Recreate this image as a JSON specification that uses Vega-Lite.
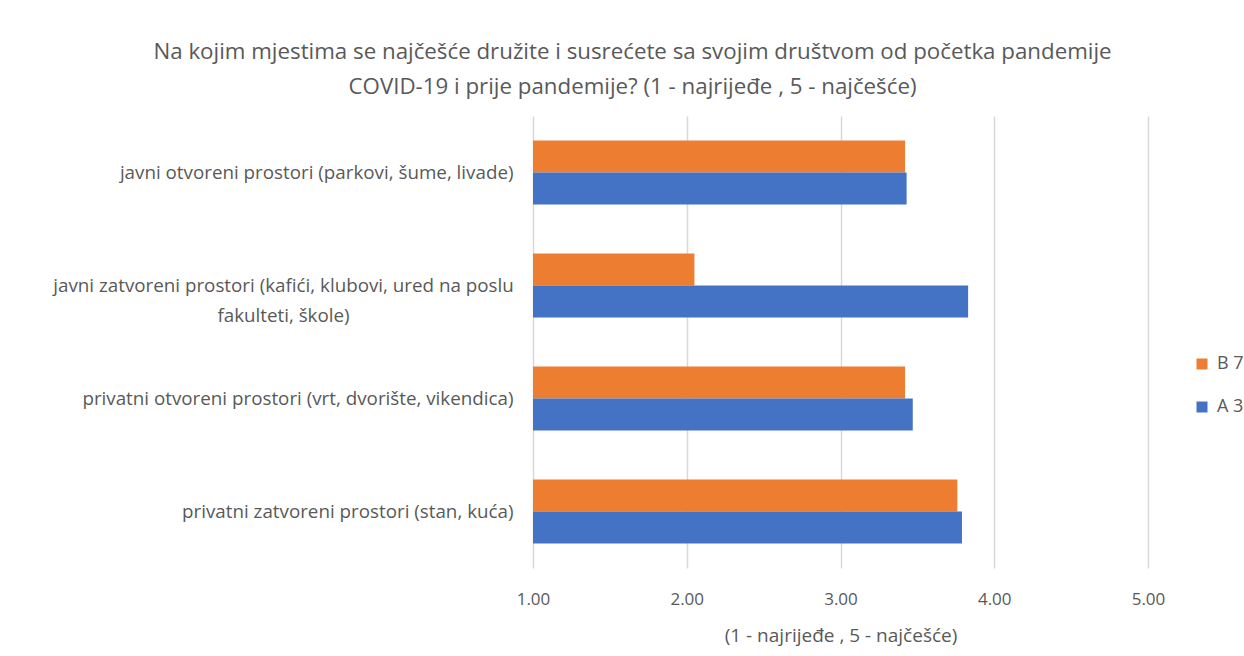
{
  "$schema": "https://vega.github.io/schema/vega-lite/v6.json",
  "width": 615,
  "height": 452,
  "autosize": {"type": "none"},
  "padding": {"left": 533, "top": 116, "right": 96, "bottom": 88},
  "background": "white",
  "title": {
    "text": ["Na kojim mjestima se najčešće družite i susrećete sa svojim društvom od početka pandemije", "COVID-19 i prije pandemije? (1 - najrijeđe , 5 - najčešće)"],
    "anchor": "middle",
    "frame": "group",
    "dx": -208,
    "offset": 18,
    "font": "Open Sans",
    "fontSize": 22.3,
    "fontWeight": "normal",
    "color": "#595959",
    "lineHeight": 35
  },
  "data": {
    "values": [
      {"cat": "javni otvoreni prostori (parkovi, šume, livade)", "series": "B 7", "value": 3.42},
      {"cat": "javni otvoreni prostori (parkovi, šume, livade)", "series": "A 3", "value": 3.43},
      {"cat": "javni zatvoreni prostori (kafići, klubovi, ured na poslu|fakulteti, škole)", "series": "B 7", "value": 2.05},
      {"cat": "javni zatvoreni prostori (kafići, klubovi, ured na poslu|fakulteti, škole)", "series": "A 3", "value": 3.83},
      {"cat": "privatni otvoreni prostori (vrt, dvorište, vikendica)", "series": "B 7", "value": 3.42},
      {"cat": "privatni otvoreni prostori (vrt, dvorište, vikendica)", "series": "A 3", "value": 3.47},
      {"cat": "privatni zatvoreni prostori (stan, kuća)", "series": "B 7", "value": 3.76},
      {"cat": "privatni zatvoreni prostori (stan, kuća)", "series": "A 3", "value": 3.79}
    ]
  },
  "mark": {"type": "bar", "orient": "horizontal"},
  "encoding": {
    "y": {
      "field": "cat",
      "type": "nominal",
      "sort": null,
      "scale": {"paddingInner": 0.434, "paddingOuter": 0.217},
      "axis": {
        "title": null,
        "domain": false,
        "ticks": false,
        "labelExpr": "split(datum.label, '|')",
        "labelAlign": {"condition": {"test": "indexof(datum.value, '|') >= 0", "value": "center"}, "value": "right"},
        "labelPadding": {"condition": {"test": "indexof(datum.value, '|') >= 0", "value": 250}, "value": 20},
        "labelFont": "Open Sans",
        "labelFontSize": 18.8,
        "labelColor": "#595959",
        "labelLineHeight": 30,
        "labelLimit": 600,
        "grid": false
      }
    },
    "yOffset": {
      "field": "series",
      "type": "nominal",
      "sort": ["B 7", "A 3"],
      "scale": {"paddingInner": 0, "paddingOuter": 0}
    },
    "x": {
      "field": "value",
      "type": "quantitative",
      "scale": {"domain": [1, 5], "nice": false, "zero": false},
      "axis": {
        "title": "(1 - najrijeđe , 5 - najčešće)",
        "values": [1, 2, 3, 4, 5],
        "format": ".2f",
        "domain": false,
        "ticks": false,
        "grid": true,
        "gridColor": "#d9d9d9",
        "gridWidth": 1.5,
        "labelFlush": false,
        "labelFont": "Open Sans",
        "labelFontSize": 17,
        "labelColor": "#595959",
        "labelPadding": 23,
        "titleFont": "Open Sans",
        "titleFontSize": 19,
        "titleFontWeight": "normal",
        "titleColor": "#595959",
        "titlePadding": 19
      }
    },
    "x2": {"datum": 1},
    "color": {
      "field": "series",
      "type": "nominal",
      "scale": {"domain": ["B 7", "A 3"], "range": ["#ED7D31", "#4472C4"]},
      "legend": {
        "title": null,
        "orient": "none",
        "legendX": 660,
        "legendY": 239,
        "symbolType": "square",
        "symbolSize": 121,
        "symbolStrokeWidth": 0,
        "labelFont": "Open Sans",
        "labelFontSize": 18,
        "labelColor": "#595959",
        "labelOffset": 6,
        "rowPadding": 25,
        "padding": 0
      }
    }
  },
  "config": {"view": {"stroke": null}}
}
